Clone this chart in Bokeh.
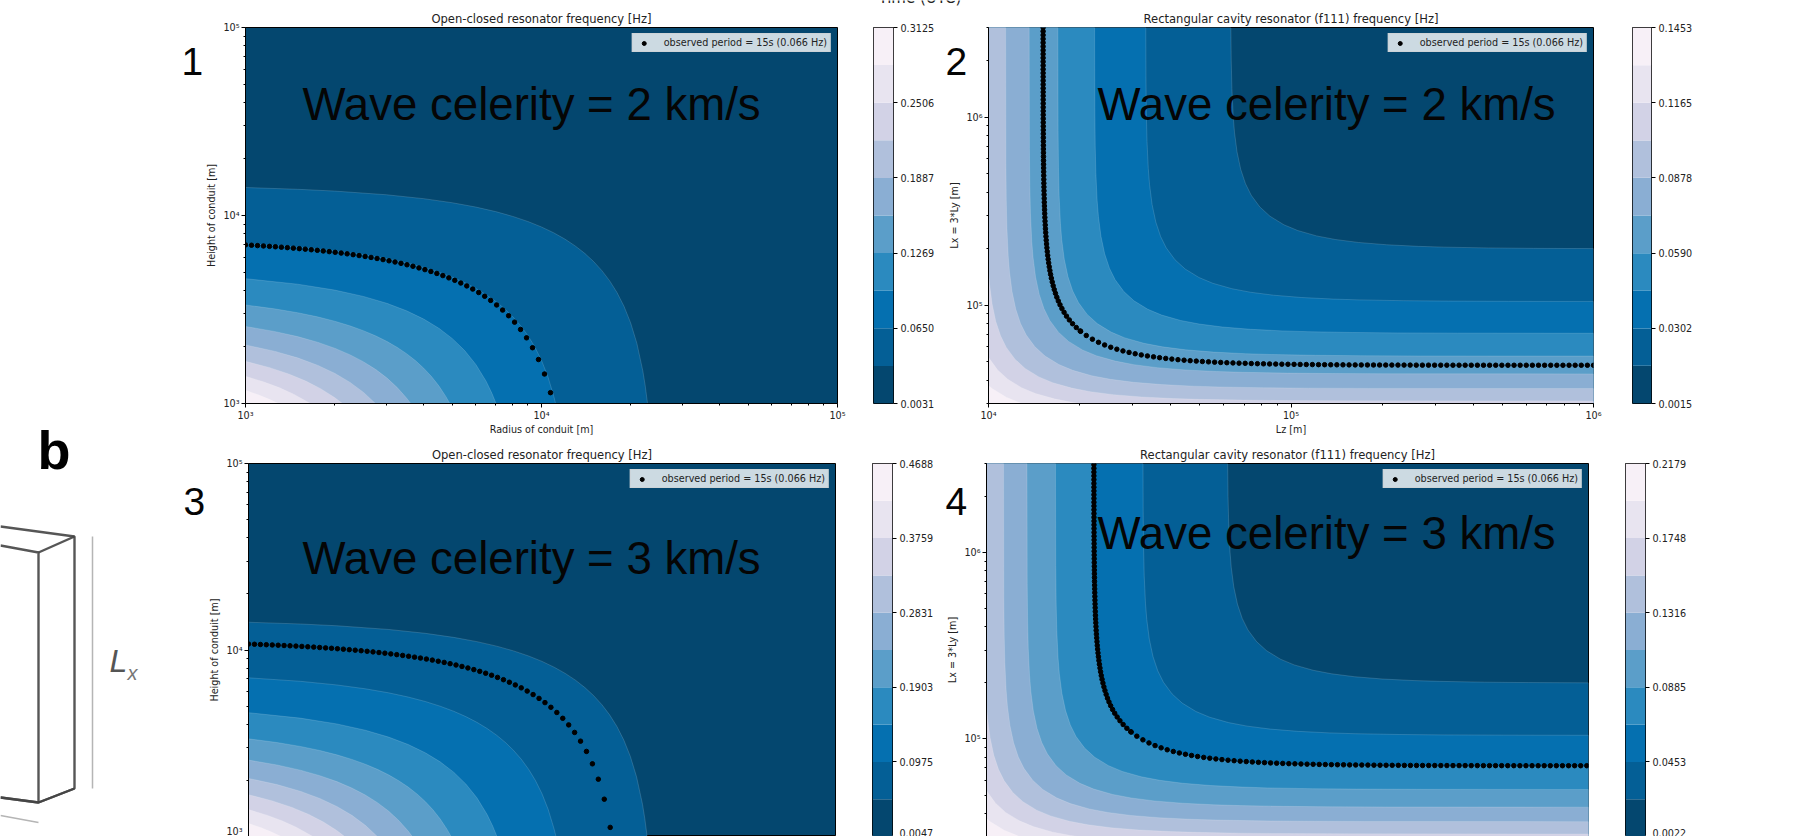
from bokeh.plotting import figure
from bokeh.layouts import column, row
from bokeh.models import Range1d, FixedTicker, Label
from bokeh.core.properties import value
from bokeh.embed import file_html
from bokeh.resources import INLINE

# ---- fill colours of the ten bands, lowest frequency first
BAND_COLORS = ["#04476f", "#045f96", "#0570b0", "#2b8abf", "#5b9ec9",
               "#8aaed3", "#b0c0dc", "#d2d2e6", "#e8e4f0", "#f7f0f7"]

# ---- colour bar levels and tick labels
LEVELS_1 = [0.0031, 0.03404, 0.06498, 0.09592, 0.12686, 0.1578, 0.18874, 0.21968, 0.25062, 0.28156, 0.3125]
TICKS_1 = [0.0031, 0.0650, 0.1269, 0.1887, 0.2506, 0.3125]
LABELS_1 = ["0.0031", "0.0650", "0.1269", "0.1887", "0.2506", "0.3125"]
LEVELS_2 = [0.0015, 0.0159, 0.0302, 0.0446, 0.0590, 0.0734, 0.0878, 0.1021, 0.1165, 0.1309, 0.1453]
TICKS_2 = [0.0015, 0.0302, 0.0590, 0.0878, 0.1165, 0.1453]
LABELS_2 = ["0.0015", "0.0302", "0.0590", "0.0878", "0.1165", "0.1453"]
LEVELS_3 = [0.0047, 0.05111, 0.09752, 0.14393, 0.19034, 0.23675, 0.28316, 0.32957, 0.37598, 0.42239, 0.4688]
TICKS_3 = [0.0047, 0.0975, 0.1903, 0.2831, 0.3759, 0.4688]
LABELS_3 = ["0.0047", "0.0975", "0.1903", "0.2831", "0.3759", "0.4688"]
LEVELS_4 = [0.0022, 0.0238, 0.0453, 0.0669, 0.0885, 0.1100, 0.1316, 0.1532, 0.1748, 0.1963, 0.2179]
TICKS_4 = [0.0022, 0.0453, 0.0885, 0.1316, 0.1748, 0.2179]
LABELS_4 = ["0.0022", "0.0453", "0.0885", "0.1316", "0.1748", "0.2179"]

# ---- band boundaries of the open-closed resonator panels (radius, height)
OC_R1 = [1000, 1500, 2000, 3000, 4000, 5000, 6000, 7000, 8000, 9000, 10000, 11000, 12000, 13000, 14000, 15000, 16000, 17000, 18000, 19000, 20000, 21000, 22000, 22400, 22815]
OC_H1 = [14089, 13789, 13489, 12889, 12289, 11689, 11089, 10489, 9889, 9289, 8689, 8089, 7489, 6889, 6289, 5689, 5089, 4489, 3889, 3289, 2689, 2089, 1489, 1249, 1000]
OC_R2 = [1000, 1500, 2000, 2500, 3000, 3500, 4000, 4500, 5000, 5500, 6000, 6500, 7000, 7500, 8000, 8500, 9000, 9500, 10000, 10500, 11000, 11158]
OC_H2 = [7095, 6795, 6495, 6195, 5895, 5595, 5295, 4995, 4695, 4395, 4095, 3795, 3495, 3195, 2895, 2595, 2295, 1995, 1695, 1395, 1095, 1000]
OC_R3 = [1000, 1500, 2000, 2500, 3000, 3500, 4000, 4500, 5000, 5500, 6000, 6500, 6800, 7022]
OC_H3 = [4613, 4313, 4013, 3713, 3413, 3113, 2813, 2513, 2213, 1913, 1613, 1313, 1133, 1000]
OC_R4 = [1000, 1250, 1500, 1750, 2000, 2250, 2500, 2750, 3000, 3250, 3500, 3750, 4000, 4250, 4500, 4750, 4902]
OC_H4 = [3341, 3191, 3041, 2891, 2741, 2591, 2441, 2291, 2141, 1991, 1841, 1691, 1541, 1391, 1241, 1091, 1000]
OC_R5 = [1000, 1250, 1500, 1750, 2000, 2250, 2500, 2750, 3000, 3250, 3500, 3615]
OC_H5 = [2569, 2419, 2269, 2119, 1969, 1819, 1669, 1519, 1369, 1219, 1069, 1000]
OC_R6 = [1000, 1250, 1500, 1750, 2000, 2250, 2500, 2748]
OC_H6 = [2049, 1899, 1749, 1599, 1449, 1299, 1149, 1000]
OC_R7 = [1000, 1200, 1400, 1600, 1800, 2000, 2127]
OC_H7 = [1676, 1556, 1436, 1316, 1196, 1076, 1000]
OC_R8 = [1000, 1150, 1300, 1450, 1658]
OC_H8 = [1395, 1305, 1215, 1125, 1000]
OC_R9 = [1000, 1100, 1200, 1293]
OC_H9 = [1176, 1116, 1056, 1000]

# ---- band boundaries of the rectangular cavity panels (Lz, Lx)
RC_Z1 = [63270, 63456, 63771, 64403, 65034, 66297, 68191, 70717, 73874, 78925, 85239, 94710, 105254, 121608, 140171, 167195, 207099, 263546, 320436, 449809, 633294, 1000000]
RC_X1 = [3000000, 2002590, 1422378, 1013275, 833381, 654885, 528700, 443245, 384545, 332833, 297294, 267944, 249575, 233602, 223619, 215633, 209643, 205650, 203653, 201657, 200658, 200059]
RC_Z2 = [33108, 33154, 33253, 33419, 33750, 34081, 34742, 35735, 37059, 38713, 41360, 44669, 49632, 55158, 63727, 73455, 87617, 108529, 138109, 167922, 235719, 331873, 523783, 1000000]
RC_X2 = [3000000, 1656325, 1049459, 745398, 531007, 436734, 343193, 277066, 232283, 201521, 174422, 155797, 140416, 130790, 122419, 117188, 113003, 109864, 107771, 106725, 105678, 105155, 104841, 104684]
RC_Z3 = [22426, 22463, 22530, 22642, 22866, 23091, 23539, 24211, 25108, 26229, 28023, 30264, 33627, 37371, 43177, 49768, 59363, 73531, 93573, 113771, 159706, 224853, 354877, 1000000]
RC_X3 = [3000000, 1122189, 711027, 505020, 359767, 295895, 232519, 187717, 157376, 136534, 118174, 105555, 95134, 88613, 82941, 79397, 76561, 74435, 73017, 72308, 71599, 71244, 71032, 70908]
RC_Z4 = [16953, 16985, 17036, 17121, 17290, 17460, 17799, 18307, 18985, 19833, 21189, 22884, 25427, 28257, 32648, 37631, 44886, 55599, 70754, 86026, 120759, 170019, 268334, 1000000]
RC_X4 = [3000000, 848567, 537658, 381882, 272045, 223747, 175824, 141946, 119003, 103243, 89360, 79818, 71938, 67006, 62718, 60038, 57893, 56285, 55213, 54677, 54141, 53873, 53712, 53620]
RC_Z5 = [13630, 13655, 13696, 13764, 13901, 14037, 14309, 14718, 15263, 15945, 17035, 18398, 20442, 22718, 26248, 30254, 36087, 44700, 56883, 69162, 97086, 136689, 215731, 1000000]
RC_X5 = [3000000, 682210, 432253, 307016, 218712, 179883, 141355, 114118, 95673, 83003, 71841, 64170, 57835, 53870, 50422, 48268, 46544, 45251, 44389, 43958, 43527, 43311, 43182, 43105]
RC_Z6 = [11395, 11417, 11451, 11508, 11622, 11736, 11964, 12306, 12761, 13331, 14243, 15382, 17091, 18994, 21945, 25295, 30171, 37372, 47559, 57825, 81171, 114282, 180367, 1000000]
RC_X6 = [3000000, 570387, 361401, 256692, 182862, 150398, 118185, 95413, 79991, 69398, 60065, 53652, 48355, 45040, 42157, 40356, 38915, 37834, 37113, 36753, 36392, 36212, 36104, 36040]
RC_Z7 = [10000, 10084, 10280, 10573, 10965, 11454, 12238, 13217, 14685, 16320, 18856, 21734, 25924, 32111, 40863, 49684, 69744, 98194, 154976, 1000000]
RC_X7 = [151700, 129219, 101542, 81977, 68727, 59625, 51607, 46096, 41546, 38698, 36221, 34673, 33435, 32506, 31887, 31577, 31268, 31113, 31020, 30965]
RC_Z8 = [10000, 10726, 11584, 12872, 14304, 16527, 19050, 20124]
RC_X8 = [52840, 45236, 40405, 36417, 33920, 31749, 30392, 30000]
RC_Z9 = [10000, 10311, 11457, 12880]
RC_X9 = [37425, 35967, 32416, 30000]

# ---- points where the frequency equals the observed one
DOTS_1_R = [1000, 1048, 1098, 1150, 1205, 1262, 1322, 1385, 1451, 1520, 1592, 1668, 1748, 1831, 1918, 2009, 2105, 2205, 2310, 2420, 2536, 2656, 2783, 2915, 3054, 3200, 3352, 3512, 3679, 3854, 4038, 4230, 4431, 4642, 4863, 5094, 5337, 5591, 5857, 6136, 6428, 6734, 7055, 7391, 7743, 8111, 8498, 8902, 9326, 9770, 10235, 10723]
DOTS_1_H = [6976, 6947, 6917, 6886, 6853, 6819, 6783, 6745, 6705, 6664, 6621, 6575, 6527, 6477, 6425, 6370, 6313, 6253, 6190, 6124, 6055, 5982, 5906, 5827, 5743, 5656, 5565, 5469, 5369, 5264, 5154, 5038, 4917, 4791, 4659, 4520, 4374, 4222, 4062, 3894, 3719, 3536, 3343, 3141, 2930, 2709, 2477, 2235, 1980, 1714, 1435, 1142]
DOTS_3_R = [1000, 1048, 1098, 1150, 1205, 1262, 1322, 1385, 1451, 1520, 1592, 1668, 1748, 1831, 1918, 2009, 2105, 2205, 2310, 2420, 2536, 2656, 2783, 2915, 3054, 3200, 3352, 3512, 3679, 3854, 4038, 4230, 4431, 4642, 4863, 5094, 5337, 5591, 5857, 6136, 6428, 6734, 7055, 7391, 7743, 8111, 8498, 8902, 9326, 9770, 10235, 10723, 11233, 11768, 12329, 12916, 13531, 14175, 14851, 15558, 16299, 17075]
DOTS_3_H = [10764, 10735, 10705, 10674, 10641, 10607, 10571, 10533, 10493, 10452, 10409, 10363, 10315, 10265, 10213, 10158, 10101, 10041, 9978, 9912, 9843, 9770, 9694, 9615, 9531, 9444, 9353, 9257, 9157, 9052, 8942, 8826, 8705, 8579, 8447, 8308, 8162, 8010, 7850, 7682, 7507, 7324, 7131, 6929, 6718, 6497, 6265, 6023, 5768, 5502, 5223, 4930, 4624, 4303, 3967, 3614, 3245, 2859, 2453, 2029, 1585, 1119]

DOTS_2_Z = [15154, 15154, 15155, 15155, 15155, 15156, 15156, 15156, 15157, 15157, 15158, 15158, 15159, 15160, 15160, 15161, 15162, 15162, 15163, 15164, 15165, 15166, 15167, 15168, 15170, 15172, 15174, 15176, 15178, 15181, 15184, 15187, 15190, 15194, 15197, 15202, 15207, 15213, 15219, 15225, 15232, 15240, 15249, 15258, 15269, 15281, 15293, 15308, 15323, 15340, 15358, 15379, 15402, 15426, 15455, 15485, 15519, 15557, 15597, 15643, 15693, 15749, 15811, 15881, 15956, 16041, 16137, 16244, 16363, 16498, 16649, 16820, 17013, 17234, 17487, 17778, 18111, 18503, 18963, 19510, 20165,
            20094, 21051, 22053, 23103, 24204, 25356, 26564, 27829, 29154, 30542, 31997, 33519, 35119, 36787, 38539, 40375, 42297, 44311, 46416, 48626, 50941, 53367, 55908, 58570, 61359, 64281, 67342, 70548, 73907, 77426, 81113, 84975, 89022, 93260, 97701, 102353, 107227, 112330, 117680, 123290, 129160, 135310, 141750, 148510, 155580, 162990, 170750, 178890, 187380, 196300, 205650, 215440, 225700, 236450, 247710, 259500, 271860, 284800, 298360, 312570, 327450, 343050, 359380, 376490, 394420, 413200, 432880, 453490, 475080, 497700, 521400, 546230, 572240, 599490, 628030, 657930, 689260, 722080, 756460, 792480, 830220, 869750, 911160, 954550, 1000000]
DOTS_2_X = [3000000, 2863650, 2733480, 2609250, 2490660, 2377440, 2269380, 2166240, 2067780, 1973790, 1884090, 1798470, 1716720, 1638690, 1564200, 1493100, 1425240, 1360470, 1298640, 1239600, 1183260, 1129470, 1078140, 1029150, 982350, 937710, 895080, 854400, 815580, 778500, 743130, 709350, 677100, 646320, 616950, 588900, 562140, 536670, 512250, 488970, 466740, 445530, 425250, 405930, 387480, 369870, 353040, 336990, 321681, 307059, 293103, 279780, 267066, 254925, 243339, 232278, 221721, 211644, 202026, 192843, 184077, 175710, 167724, 160101, 152823, 145878, 139248, 132933, 126891, 121125, 115617, 110361, 105357, 100557, 95991, 91626, 87462, 83487, 79692, 76068, 72612,
            72950, 69020, 65945, 63470, 61445, 59757, 58337, 57129, 56083, 55183, 54397, 53716, 53108, 52582, 52111, 51690, 51316, 50990, 50693, 50424, 50186, 49968, 49778, 49601, 49447, 49304, 49174, 49059, 48954, 48858, 48772, 48695, 48623, 48560, 48503, 48451, 48403, 48355, 48316, 48278, 48249, 48216, 48192, 48163, 48144, 48120, 48106, 48086, 48072, 48058, 48043, 48034, 48024, 48015, 48005, 47996, 47988, 47982, 47976, 47970, 47965, 47961, 47957, 47953, 47949, 47946, 47943, 47941, 47938, 47936, 47934, 47933, 47931, 47930, 47928, 47927, 47926, 47925, 47924, 47923, 47922, 47922, 47921, 47920, 47920]

DOTS_4_Z = [22736, 22737, 22737, 22739, 22740, 22740, 22742, 22743, 22743, 22745, 22746, 22748, 22749, 22751, 22752, 22755, 22758, 22761, 22764, 22767, 22772, 22776, 22781, 22785, 22791, 22796, 22803, 22811, 22820, 22829, 22838, 22848, 22860, 22874, 22887, 22904, 22922, 22940, 22962, 22985, 23010, 23037, 23069, 23103, 23139, 23183, 23228, 23279, 23336, 23396, 23465, 23540, 23624, 23717, 23822, 23934, 24062, 24206, 24366, 24545, 24747, 24974, 25230, 25520, 25851, 26231, 26667, 27167, 27755, 28445, 29265, 30248,
            30141, 31577, 33080, 34655, 36306, 38034, 39846, 41744, 43731, 45813, 47996, 50279, 52679, 55181, 57809, 60563, 63446, 66467, 69624, 72939, 76412, 80051, 83862, 87855, 92039, 96422, 101013, 105822, 110861, 116139, 121670, 127463, 133533, 139890, 146552, 153530, 160841, 168495, 176520, 184935, 193740, 202965, 212625, 222765, 233370, 244485, 256125, 268335, 281070, 294450, 308475, 323160, 338550, 354675, 371565, 389250, 407790, 427200, 447540, 468855, 491175, 514575, 539070, 564735, 591630, 619800, 649320, 680235, 712620, 746550, 782100, 819345, 858360, 899235, 942045, 986895, 1033890]
DOTS_4_X = [2960685, 2826135, 2697705, 2575080, 2458035, 2346300, 2239650, 2137860, 2040705, 1947960, 1859400, 1774890, 1694205, 1617210, 1543725, 1473525, 1406565, 1342620, 1281600, 1223370, 1167750, 1114695, 1064025, 1015650, 969480, 925425, 883350, 843210, 805005, 768375, 733455, 700110, 668295, 637875, 608895, 581220, 554805, 529560, 505485, 482522, 460589, 439655, 419670, 400599, 382388, 365009, 348417, 332582, 317466, 303039, 289265, 276116, 263565, 251586, 240152, 229235, 218817, 208872, 199400, 190337, 181688, 173426, 165542, 158036, 150836, 143987, 137439, 131193, 125231, 119538, 114102, 108918,
            109425, 103530, 98918, 95205, 92168, 89636, 87506, 85694, 84125, 82775, 81596, 80574, 79662, 78873, 78167, 77535, 76974, 76485, 76040, 75636, 75279, 74952, 74667, 74402, 74171, 73956, 73761, 73589, 73431, 73287, 73158, 73043, 72935, 72840, 72755, 72677, 72605, 72533, 72474, 72417, 72374, 72324, 72288, 72245, 72216, 72180, 72159, 72129, 72108, 72087, 72065, 72051, 72036, 72023, 72008, 71994, 71982, 71973, 71964, 71955, 71948, 71942, 71936, 71930, 71924, 71919, 71915, 71912, 71907, 71904, 71901, 71900, 71897, 71895, 71892, 71891, 71889]

# ---- axis ticks
OC_MAJOR = [1e3, 1e4, 1e5]
OC_MINOR = [2e3, 3e3, 4e3, 5e3, 6e3, 7e3, 8e3, 9e3, 2e4, 3e4, 4e4, 5e4, 6e4, 7e4, 8e4, 9e4]
OC_LABELS = {1000: "10³", 10000: "10⁴", 100000: "10⁵"}
LZ_MAJOR = [1e4, 1e5, 1e6]
LZ_MINOR = [2e4, 3e4, 4e4, 5e4, 6e4, 7e4, 8e4, 9e4, 2e5, 3e5, 4e5, 5e5, 6e5, 7e5, 8e5, 9e5]
LZ_LABELS = {10000: "10⁴", 100000: "10⁵", 1000000: "10⁶"}
LX_MAJOR = [1e5, 1e6]
LX_MINOR = [3e4, 4e4, 5e4, 6e4, 7e4, 8e4, 9e4, 2e5, 3e5, 4e5, 5e5, 6e5, 7e5, 8e5, 9e5, 2e6, 3e6]
LX_LABELS = {100000: "10⁵", 1000000: "10⁶"}

OC_CURVES = [(OC_R1, OC_H1), (OC_R2, OC_H2), (OC_R3, OC_H3), (OC_R4, OC_H4), (OC_R5, OC_H5),
             (OC_R6, OC_H6), (OC_R7, OC_H7), (OC_R8, OC_H8), (OC_R9, OC_H9)]
RC_CURVES = [(RC_Z1, RC_X1), (RC_Z2, RC_X2), (RC_Z3, RC_X3), (RC_Z4, RC_X4), (RC_Z5, RC_X5),
             (RC_Z6, RC_X6), (RC_Z7, RC_X7), (RC_Z8, RC_X8), (RC_Z9, RC_X9)]

LEGEND_TEXT = "observed period = 15s (0.066 Hz)"
SANS = "DejaVu Sans"
HELV = "Liberation Sans"
SMALL = "9.63px"


def style_axis(ax, major, minor, labels):
    ax.ticker = FixedTicker(ticks=major, minor_ticks=minor)
    ax.major_label_overrides = labels
    ax.major_label_text_font = SANS
    ax.major_label_text_font_size = SMALL
    ax.major_label_text_color = "#222222"
    ax.major_tick_out = 4
    ax.major_tick_in = 0
    ax.minor_tick_out = 2
    ax.minor_tick_in = 0
    ax.axis_line_color = "black"
    ax.major_tick_line_color = "black"
    ax.minor_tick_line_color = "black"
    ax.major_label_standoff = 2


def panel(width, height, left, right, top, bottom, xr, yr, title, xlabel, ylabel, curves,
          dots_x, dots_y, xticks, yticks, show_x, big, big_x, big_y):
    p = figure(width=width, height=height, x_axis_type="log", y_axis_type="log",
               x_range=Range1d(*xr), y_range=Range1d(*yr),
               toolbar_location=None, output_backend="svg",
               min_border_left=left, min_border_right=right, min_border_top=top, min_border_bottom=bottom,
               title=title)
    p.title.text_font = SANS
    p.title.text_font_size = "11.56px"
    p.title.text_font_style = "normal"
    p.title.text_color = "#222222"
    p.title.align = "center"
    p.title.standoff = 4
    p.grid.visible = False
    p.background_fill_color = BAND_COLORS[0]
    p.outline_line_color = "black"
    p.outline_line_width = 1
    for (cx, cy), col in zip(curves, BAND_COLORS[1:]):
        px = [xr[0]] + list(cx) + [cx[-1], xr[0]]
        py = [cy[0]] + list(cy) + [yr[0], yr[0]]
        p.patch(px, py, fill_color=col, line_color="#ffffff", line_alpha=0.3, line_width=0.5)
    p.scatter(dots_x, dots_y, marker="circle", size=4.5, color="black", legend_label=LEGEND_TEXT)
    leg = p.legend[0]
    leg.location = "top_right"
    leg.margin = 6
    leg.padding = 3
    leg.spacing = 0
    leg.label_text_font = SANS
    leg.label_text_font_size = SMALL
    leg.label_text_color = "#222222"
    leg.label_standoff = 12
    leg.glyph_width = 16
    leg.glyph_height = 10
    leg.label_height = 10
    leg.background_fill_color = "white"
    leg.background_fill_alpha = 0.8
    leg.border_line_color = "#cccccc"
    style_axis(p.xaxis[0], xticks[0], xticks[1], xticks[2])
    style_axis(p.yaxis[0], yticks[0], yticks[1], yticks[2])
    p.xaxis.axis_label = xlabel
    p.yaxis.axis_label = ylabel
    for ax in (p.xaxis[0], p.yaxis[0]):
        ax.axis_label_text_font = SANS
        ax.axis_label_text_font_size = SMALL
        ax.axis_label_text_font_style = "normal"
        ax.axis_label_text_color = "#222222"
    p.xaxis.axis_label_standoff = 0
    p.yaxis.axis_label_standoff = 3
    p.xaxis.visible = show_x
    p.add_layout(Label(x=big_x, y=big_y, x_units="screen", y_units="screen", text=big,
                       text_font=HELV, text_font_size="45.6px", text_color="#050505",
                       text_baseline="middle"))
    return p


def colorbar(width, height, left, bar, top, bottom, levels, ticks, labels):
    c = figure(width=width, height=height, x_range=Range1d(0, 1), y_range=Range1d(levels[0], levels[-1]),
               toolbar_location=None, output_backend="svg", min_border_left=left,
               min_border_right=width - left - bar, min_border_top=top, min_border_bottom=bottom,
               y_axis_location="right")
    c.grid.visible = False
    c.xaxis.visible = False
    c.outline_line_color = "black"
    c.quad(left=0, right=1, bottom=levels[:-1], top=levels[1:], fill_color=BAND_COLORS, line_color=None)
    ax = c.yaxis[0]
    ax.ticker = FixedTicker(ticks=ticks, minor_ticks=[])
    ax.major_label_overrides = dict(zip(ticks, labels))
    ax.major_label_text_font = SANS
    ax.major_label_text_font_size = SMALL
    ax.major_label_text_color = "#222222"
    ax.major_tick_out = 4
    ax.major_tick_in = 0
    ax.minor_tick_out = 0
    ax.axis_line_color = None
    ax.major_tick_line_color = "black"
    ax.major_label_standoff = 3
    return c


def blank(width, height, margin=(0, 0, 0, 0)):
    f = figure(width=width, height=height, x_axis_type=None, y_axis_type=None,
               x_range=Range1d(0, width), y_range=Range1d(height, 0), toolbar_location=None,
               output_backend="svg", min_border=0, margin=margin)
    f.grid.visible = False
    f.outline_line_color = None
    f.background_fill_alpha = 0
    f.border_fill_alpha = 0
    return f


OC_T = "Open-closed resonator frequency [Hz]"
RC_T = "Rectangular cavity resonator (f111) frequency [Hz]"
OC_X = "Radius of conduit [m]"
OC_Y = "Height of conduit [m]"
OC_TICKS = (OC_MAJOR, OC_MINOR, OC_LABELS)
LZ_TICKS = (LZ_MAJOR, LZ_MINOR, LZ_LABELS)
LX_TICKS = (LX_MAJOR, LX_MINOR, LX_LABELS)

p1 = panel(705, 435, 95, 18, 22, 37, (1e3, 1e5), (1e3, 1e5), OC_T, OC_X, OC_Y, OC_CURVES, DOTS_1_R, DOTS_1_H,
           OC_TICKS, OC_TICKS, True, "Wave celerity = 2 km/s", 57, 299)
c1 = colorbar(85, 435, 18, 20, 22, 37, LEVELS_1, TICKS_1, LABELS_1)
p2 = panel(670, 435, 48, 17, 22, 37, (1e4, 1e6), (3e4, 3e6), RC_T, "Lz [m]", "Lx = 3*Ly [m]", RC_CURVES, DOTS_2_Z, DOTS_2_X,
           LZ_TICKS, LX_TICKS, True, "Wave celerity = 2 km/s", 109, 299)
c2 = colorbar(184, 435, 22, 19, 22, 37, LEVELS_2, TICKS_2, LABELS_2)

p3 = panel(705, 396, 98, 20, 23, 0, (1e3, 1e5), (1e3, 1e5), OC_T, OC_X, OC_Y, OC_CURVES, DOTS_3_R, DOTS_3_H,
           OC_TICKS, OC_TICKS, False, "Wave celerity = 3 km/s", 54, 278)
c3 = colorbar(85, 396, 17, 20, 23, 0, LEVELS_3, TICKS_3, LABELS_3)
p4 = panel(665, 396, 46, 17, 23, 0, (1e4, 1e6), (3e4, 3e6), RC_T, "Lz [m]", "Lx = 3*Ly [m]", RC_CURVES, DOTS_4_Z, DOTS_4_X,
           LZ_TICKS, LX_TICKS, False, "Wave celerity = 3 km/s", 111, 303)
c4 = colorbar(189, 396, 20, 20, 23, 0, LEVELS_4, TICKS_4, LABELS_4)

# ---- spacer along the top; the texts that lie outside the panels go on a transparent sheet over them all
strip = blank(1644, 5)
sheet = blank(1644, 836, margin=(-836, 0, 0, 0))
sheet.text([728], [-2.1], text=["Time (UTC)"], text_font=value(SANS), text_font_size="15px",
           text_color="#222222", text_baseline="middle", text_align="left")
sheet.text([31, 795, 33, 795], [61, 61, 501, 501], text=["1", "2", "3", "4"], text_font=value(HELV),
           text_font_size="39px", text_color="#050505", text_baseline="middle", text_align="left")

# ---- the sketch of the box at the left edge
BOX_X = [[0, 38, 38, 0], [0, 74, 74, 38], [38, 74], [0, 38, 74]]
BOX_Y = [[545, 552, 802, 797], [526, 536, 788, 802], [552, 536], [797, 802, 788]]
DIM_X = [[92, 92], [0, 38]]
DIM_Y = [[536, 788], [815, 822]]
left = blank(150, 836)
left.multi_line(BOX_X, BOX_Y, line_color="#444444", line_width=2.4, line_alpha=0.9)
left.multi_line(DIM_X, DIM_Y, line_color="#b5b5b5", line_width=1.5)
left.text([37], [449], text=["b"], text_font=value(HELV), text_font_size="54px", text_font_style="bold",
          text_color="black", text_baseline="middle")
left.text([109], [660], text=["L"], text_font=value(HELV), text_font_size="32px", text_font_style="italic",
          text_color="#555555", text_baseline="middle")
left.text([127], [672], text=["x"], text_font=value(HELV), text_font_size="20px", text_font_style="italic",
          text_color="#777777", text_baseline="middle")

right = column(strip, row(p1, c1, p2, c2), row(p3, c3, p4, c4), sheet)
page = row(left, right)

open("out.html", "w").write(file_html(page, INLINE))
